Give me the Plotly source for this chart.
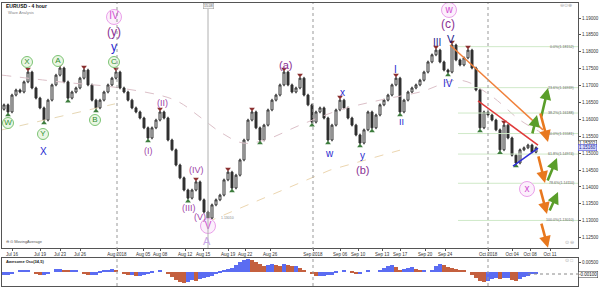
import plotly.graph_objects as go

# ---------------- data ----------------
first_open = 1.1630
closes = [1.1643, 1.1622, 1.1672, 1.1687, 1.1681, 1.1711, 1.1740, 1.1693, 1.1663, 1.1634,
          1.1598, 1.1657, 1.1702, 1.1731, 1.1752, 1.1711, 1.1663, 1.1681, 1.1693, 1.1722,
          1.1746, 1.1702, 1.1657, 1.1634, 1.1657, 1.1681, 1.1702, 1.1722, 1.1740, 1.1693,
          1.1681, 1.1657, 1.1634, 1.1622, 1.1604, 1.1575, 1.1545, 1.1575, 1.1598, 1.1622,
          1.1604, 1.1539, 1.1510, 1.1465, 1.1427, 1.1391, 1.1367, 1.1391, 1.1415, 1.1362,
          1.1326, 1.1308, 1.1347, 1.1362, 1.1376, 1.1421, 1.1444, 1.1397, 1.1435, 1.1480,
          1.1539, 1.1598, 1.1622, 1.1575, 1.1539, 1.1583, 1.1628, 1.1657, 1.1672, 1.1702,
          1.1740, 1.1702, 1.1681, 1.1693, 1.1722, 1.1672, 1.1643, 1.1592, 1.1622, 1.1634,
          1.1604, 1.1539, 1.1583, 1.1628, 1.1657, 1.1634, 1.1604, 1.1583, 1.1554, 1.1530,
          1.1569, 1.1622, 1.1575, 1.1613, 1.1643, 1.1657, 1.1672, 1.1702, 1.1722, 1.1622,
          1.1657, 1.1681, 1.1693, 1.1702, 1.1716, 1.1740, 1.1770, 1.1791, 1.1805, 1.1770,
          1.1746, 1.1740, 1.1820, 1.1776, 1.1761, 1.1782, 1.1805, 1.1752, 1.1687, 1.1575,
          1.1622, 1.1613, 1.1598, 1.1569, 1.1510, 1.1583, 1.1545, 1.1494, 1.1471, 1.1510,
          1.1516, 1.1524, 1.1503, 1.1516]

ao_values = [-0.0015, -0.0015, -0.0010, 0.0000, 0.0005, 0.0010, 0.0010, 0.0000, -0.0010, -0.0015,
             -0.0015, -0.0010, 0.0000, 0.0015, 0.0015, 0.0010, 0.0005, 0.0010, 0.0010, 0.0000,
             -0.0010, -0.0015, -0.0015, -0.0015, -0.0005, 0.0005, 0.0010, 0.0015, 0.0010, 0.0000,
             -0.0010, -0.0015, -0.0015, -0.0020, -0.0020, -0.0015, -0.0010, -0.0005, 0.0000, 0.0005,
             0.0000, -0.0010, -0.0025, -0.0040, -0.0050, -0.0055, -0.0050, -0.0040, -0.0045, -0.0035,
             -0.0030, -0.0025, -0.0020, -0.0010, -0.0005, 0.0005, 0.0015, 0.0020, 0.0035, 0.0050,
             0.0060, 0.0065, 0.0060, 0.0050, 0.0040, 0.0030, 0.0035, 0.0040, 0.0035, 0.0030,
             0.0040, 0.0035, 0.0030, 0.0030, 0.0020, 0.0010, 0.0000, -0.0010, -0.0020, -0.0020,
             -0.0020, -0.0015, -0.0015, -0.0005, 0.0000, 0.0005, 0.0000, -0.0005, -0.0010, -0.0010,
             0.0000, 0.0005, 0.0000, 0.0000, 0.0010, 0.0020, 0.0030, 0.0035, 0.0025, 0.0010,
             0.0015, 0.0020, 0.0025, 0.0015, 0.0005, 0.0005, 0.0000, 0.0010, 0.0030, 0.0040,
             0.0035, 0.0025, 0.0020, 0.0015, 0.0010, 0.0005, 0.0000, -0.0015, -0.0030, -0.0045,
             -0.0050, -0.0045, -0.0035, -0.0030, -0.0035, -0.0030, -0.0030, -0.0040, -0.0045, -0.0035,
             -0.0025, -0.0020, -0.0010, -0.0010]

date_labels = ["Jul 16", "Jul 19", "Jul 23", "Jul 26", "Aug 2018", "Aug 05", "Aug 08", "Aug 12",
               "Aug 15", "Aug 19", "Aug 22", "Aug 26", "Sep 2018", "Sep 06", "Sep 10", "Sep 13",
               "Sep 17", "Sep 20", "Sep 24", "Oct 2018", "Oct 04", "Oct 08", "Oct 11"]
date_pos = [2.0, 9.0, 14.0, 19.0, 28.25, 34.75, 39.0, 45.25, 49.75, 56.0, 60.25, 66.5,
            77.25, 84.0, 88.5, 94.5, 99.0, 105.25, 110.25, 121.0, 127.0, 131.5, 136.5]
month_starts = [28.25, 77.25, 121.0]

price_ticks = [1.125, 1.130, 1.135, 1.140, 1.145, 1.150, 1.155, 1.160, 1.165, 1.170,
               1.175, 1.180, 1.185, 1.190]

fib_levels = ["0.0%", "23.6%", "38.2%", "50.0%", "61.8%", "78.6%", "100.0%"]
fib_prices = [1.18152, 1.16939, 1.16188, 1.15581, 1.14974, 1.14110, 1.13010]

peak_idx = [6, 14, 20, 28, 39, 48, 56, 62, 70, 74, 84, 98, 108, 112, 116, 125]
trough_idx = [1, 10, 16, 23, 36, 46, 51, 57, 64, 77, 81, 89, 92, 99, 111, 119, 124, 128]

# analyst trend lines (candle index, price)
orange_line_x = [111.5, 134.75]
orange_line_y = [1.1820, 1.1569]
red_line_x = [118.5, 133.5]
red_line_y = [1.1655, 1.1524]
blue_line_x = [127.25, 133.5]
blue_line_y = [1.1462, 1.1515]

# projected path arrows: (tail_x, tail_y, head_x, head_y, colour)
arrows = [
    (134.25, 1.1604, 136.0, 1.1693, "green"),
    (132.0, 1.1554, 133.25, 1.1613, "green"),
    (134.0, 1.1622, 136.0, 1.1533, "orange"),
    (133.5, 1.1495, 135.25, 1.1412, "orange"),
    (135.75, 1.1415, 138.25, 1.1486, "green"),
    (134.0, 1.1397, 135.75, 1.1320, "orange"),
    (136.25, 1.1326, 138.5, 1.1385, "green"),
    (134.25, 1.1296, 136.0, 1.1220, "orange"),
]

# faint moving-average style dashed lines (candle index, price)
ma_curve_x = [-0.5, 14.0, 29.0, 42.75, 49.0, 54.0, 59.75, 65.25, 74.0, 84.0, 94.0, 104.0, 114.0, 121.5, 129.0, 134.0]
ma_curve_y = [1.1731, 1.1711, 1.1693, 1.1657, 1.1607, 1.1563, 1.1530, 1.1539, 1.1583, 1.1628, 1.1657, 1.1681, 1.1716, 1.1672, 1.1598, 1.1563]
beige1_x = [-0.5, 27.75]
beige1_y = [1.1569, 1.1646]
beige2_x = [50.75, 81.5, 99.0]
beige2_y = [1.1296, 1.1450, 1.1509]

# ---------------- helpers (layout only) ----------------
X_END = 143.5


def fx(px):
    return (px - 4) / 4.0


def fy(py):
    return 1.19533 - py * 0.0002959


n = len(closes)
xs = list(range(n))
opens = [first_open] + closes[:-1]
highs = [max(o, c) + 0.0004 for o, c in zip(opens, closes)]
lows = [min(o, c) - 0.0004 for o, c in zip(opens, closes)]

FONT = "Liberation Sans"
GREEN = "#5a9e2a"
ORANGE = "#e8781e"
BLUE = "#2a2ad0"
NAVY = "#1c1c8c"
PURPLE = "#8a3194"
PINK = "#d24bd2"

fig = go.Figure()

# faint dashed lines
fig.add_trace(go.Scatter(x=ma_curve_x, y=ma_curve_y, mode="lines",
                         line=dict(color="#dcc0c8", width=1, dash="dash", shape="spline"),
                         hoverinfo="skip", showlegend=False))
fig.add_trace(go.Scatter(x=beige1_x, y=beige1_y, mode="lines",
                         line=dict(color="#e6d7b4", width=1, dash="dash"),
                         hoverinfo="skip", showlegend=False))
fig.add_trace(go.Scatter(x=beige2_x, y=beige2_y, mode="lines",
                         line=dict(color="#ecd6b0", width=1, dash="dash"),
                         hoverinfo="skip", showlegend=False))

# fibonacci levels
for lvl, p in zip(fib_levels, fib_prices):
    fig.add_trace(go.Scatter(x=[fx(458), X_END], y=[p, p], mode="lines",
                             line=dict(color="#cfe9c8", width=1),
                             hoverinfo="skip", showlegend=False))
    fig.add_annotation(x=fx(576), y=p, text=f"{lvl}({p:.5f})", showarrow=False,
                       xanchor="right", yanchor="middle", font=dict(size=3.6, color="#666", family=FONT))

# candles
fig.add_trace(go.Candlestick(x=xs, open=opens, high=highs, low=lows, close=closes,
                             increasing=dict(line=dict(color="#303030", width=1), fillcolor="#ffffff"),
                             decreasing=dict(line=dict(color="#303030", width=1), fillcolor="#303030"),
                             whiskerwidth=0, hoverinfo="skip", showlegend=False))

# fractal markers
fig.add_trace(go.Scatter(x=peak_idx, y=[highs[i] + 0.0005 for i in peak_idx], mode="markers",
                         marker=dict(symbol="triangle-down", size=5, color="#8b3030"),
                         hoverinfo="skip", showlegend=False))
fig.add_trace(go.Scatter(x=trough_idx, y=[lows[i] - 0.0005 for i in trough_idx], mode="markers",
                         marker=dict(symbol="triangle-up", size=5, color="#3e7d3e"),
                         hoverinfo="skip", showlegend=False))

# trend lines
fig.add_trace(go.Scatter(x=orange_line_x, y=orange_line_y, mode="lines",
                         line=dict(color="#f0803a", width=1.5), hoverinfo="skip", showlegend=False))
fig.add_trace(go.Scatter(x=red_line_x, y=red_line_y, mode="lines",
                         line=dict(color="#e03a3a", width=1.5), hoverinfo="skip", showlegend=False))
fig.add_trace(go.Scatter(x=blue_line_x, y=blue_line_y, mode="lines",
                         line=dict(color="#2d2dd8", width=1.5), hoverinfo="skip", showlegend=False))

# arrows
for tx, ty, hx, hy, col in arrows:
    c = GREEN if col == "green" else ORANGE
    fig.add_annotation(x=hx, y=hy, ax=tx, ay=ty, xref="x", yref="y", axref="x", ayref="y",
                       showarrow=True, arrowhead=2, arrowsize=0.9, arrowwidth=2.6, arrowcolor=c, text="")

# circled labels
circled = [
    ("W", 8, 123, "green"), ("X", 27, 62, "green"), ("Y", 43, 134, "green"),
    ("A", 58, 61, "green"), ("B", 95, 120, "green"), ("C", 114, 62, "green"),
    ("IV", 114, 17, "pink"), ("V", 208, 226, "pink"), ("w", 449, 10, "pink"), ("x", 527, 189, "pink"),
]
for t, px, py, kind in circled:
    if kind == "green":
        mk = dict(size=11, color="#eaf6e4", line=dict(color="#7cc474", width=1))
        tf = dict(size=8, color="#2f8f2f", family=FONT)
    else:
        mk = dict(size=15, color="#fcf0fc", line=dict(color="#eaa0ea", width=1))
        tf = dict(size=10, color=PINK, family=FONT)
    fig.add_trace(go.Scatter(x=[fx(px)], y=[fy(py)], mode="markers+text", marker=mk,
                             text=[t], textposition="middle center", textfont=tf,
                             hoverinfo="skip", showlegend=False))

plain = [
    ("y", 114, 47, BLUE, 12), ("(y)", 114, 32, PURPLE, 12), ("X", 43, 151, BLUE, 10),
    ("(I)", 148, 151, "#a043a8", 9), ("(II)", 162, 103, "#a043a8", 9), ("(III)", 189, 208, "#a043a8", 9),
    ("(IV)", 196, 170, "#a043a8", 9), ("(V)", 200, 217, "#a043a8", 9), ("A", 207, 241, "#c9a6e6", 11),
    ("(a)", 285, 65, PURPLE, 11), ("x", 342, 92, BLUE, 10), ("w", 329, 153, BLUE, 10),
    ("y", 362, 155, BLUE, 10), ("(b)", 362, 170, PURPLE, 11), ("I", 395, 69, BLUE, 10),
    ("II", 401, 122, BLUE, 9), ("III", 437, 43, NAVY, 10), ("IV", 448, 83, BLUE, 10),
    ("V", 451, 39, NAVY, 11), ("(c)", 448, 24, PURPLE, 12),
]
for t, px, py, col, sz in plain:
    fig.add_annotation(x=fx(px), y=fy(py), text=t, showarrow=False, xanchor="center", yanchor="middle",
                       font=dict(size=sz, color=col, family=FONT))

# header texts
fig.add_annotation(x=fx(4), y=fy(6), text="<b>EURUSD - 4 hour</b>", showarrow=False, xanchor="left",
                   yanchor="middle", font=dict(size=5, color="#111", family=FONT))
fig.add_annotation(x=fx(6), y=fy(13), text="Wave Analysis", showarrow=False, xanchor="left",
                   yanchor="middle", font=dict(size=4, color="#888", family=FONT))
fig.add_annotation(x=fx(4), y=fy(241), text="⊖ ⊙ MovingAverage", showarrow=False, xanchor="left",
                   yanchor="middle", font=dict(size=4, color="#555", family=FONT))
fig.add_annotation(x=fx(566), y=fy(5), text="⊖⊙⊕", showarrow=False, xanchor="center",
                   yanchor="middle", font=dict(size=5, color="#aaa", family=FONT))
fig.add_annotation(x=fx(569), y=fy(242), text="⊙ ⊖", showarrow=False, xanchor="center",
                   yanchor="middle", font=dict(size=5, color="#aaa", family=FONT))
fig.add_annotation(x=fx(219), y=fy(218), text="1.13010", showarrow=False, xanchor="left",
                   yanchor="middle", font=dict(size=3.5, color="#888", family=FONT))
fig.add_annotation(x=fx(208), y=fy(6), text="15.08", showarrow=False, xanchor="center",
                   yanchor="middle", font=dict(size=3.5, color="#666", family=FONT),
                   bgcolor="#f4f4f4", bordercolor="#999", borderwidth=0.5, borderpad=0.5)

# right axis price boxes
fig.add_annotation(xref="paper", x=1.0, y=1.1530, text="1.15302", showarrow=False, xanchor="left",
                   yanchor="middle", font=dict(size=4.5, color="#111", family=FONT),
                   bgcolor="#ffffff", bordercolor="#333", borderwidth=0.5, borderpad=0.5)
fig.add_annotation(xref="paper", x=1.0, y=closes[-1], text=f"{closes[-1]:.5f}", showarrow=False,
                   xanchor="left", yanchor="middle", font=dict(size=4.5, color="#1a1a8a", family=FONT),
                   bgcolor="#d8dcff", bordercolor="#3a3ad0", borderwidth=0.5, borderpad=0.5)

# month separators
for m in month_starts:
    fig.add_shape(type="line", xref="x", yref="paper", x0=m, x1=m, y0=0, y1=1,
                  line=dict(color="#999", width=1, dash="dot"))
# crosshair vertical
fig.add_shape(type="line", xref="x", yref="y", x0=fx(208), x1=fx(208), y0=fy(248), y1=fy(9),
              line=dict(color="#b0b0b0", width=1))

# awesome oscillator
colors = []
for i, v in enumerate(ao_values):
    if i == 0 or v >= ao_values[i - 1]:
        colors.append("#5b6cf2")
    else:
        colors.append("#c4603f")
fig.add_trace(go.Bar(x=xs, y=ao_values, marker=dict(color=colors, line=dict(width=0)), width=1.0,
                     xaxis="x2", yaxis="y2", hoverinfo="skip", showlegend=False))
fig.add_shape(type="line", xref="x2", yref="y2", x0=fx(528), x1=X_END, y0=ao_values[-1], y1=ao_values[-1],
              line=dict(color="#888", width=1, dash="dot"))
fig.add_annotation(xref="x2", yref="y2", x=fx(4), y=0.0052, text="<b>Awesome Osc(34,5)</b>",
                   showarrow=False, xanchor="left", yanchor="middle", font=dict(size=4, color="#222", family=FONT))
fig.add_annotation(xref="x2", yref="y2", x=fx(569), y=0.0058, text="⊙ □", showarrow=False,
                   xanchor="center", yanchor="middle", font=dict(size=4.5, color="#aaa", family=FONT))
fig.add_annotation(xref="paper", yref="y2", x=1.0, y=ao_values[-1], text=f"{ao_values[-1]:.5f}",
                   showarrow=False, xanchor="left", yanchor="middle", font=dict(size=4.5, color="#111", family=FONT),
                   bgcolor="#ffffff", bordercolor="#333", borderwidth=0.5, borderpad=0.5)

fig.update_layout(
    width=600, height=287, margin=dict(l=2, r=22, t=3, b=1),
    paper_bgcolor="white", plot_bgcolor="white", showlegend=False,
    xaxis=dict(domain=[0, 1], range=[-0.5, X_END], tickvals=date_pos, ticktext=date_labels,
               ticks="outside", ticklen=2, tickcolor="#555",
               tickfont=dict(size=4.5, color="#333", family=FONT),
               showgrid=False, zeroline=False, showline=True, linecolor="#555", mirror=True,
               rangeslider=dict(visible=False), anchor="y"),
    yaxis=dict(domain=[0.1343, 1], range=[1.12195, 1.19444], side="right", tickvals=price_ticks,
               tickformat=".5f", ticks="outside", ticklen=2, tickcolor="#555",
               tickfont=dict(size=4.5, color="#333", family=FONT),
               showgrid=False, zeroline=False, showline=True, linecolor="#555", mirror=True, anchor="x"),
    xaxis2=dict(domain=[0, 1], range=[-0.5, X_END], showticklabels=False, showgrid=False, zeroline=False,
                showline=True, linecolor="#555", mirror=True, anchor="y2"),
    yaxis2=dict(domain=[0, 0.0989], range=[-0.007, 0.007], side="right", tickvals=[0.005],
                tickformat=".5f", ticks="outside", ticklen=2, tickcolor="#555",
                tickfont=dict(size=4.5, color="#333", family=FONT),
                showgrid=False, zeroline=False, showline=True, linecolor="#555", mirror=True, anchor="x2"),
)

fig.write_html("out.html")
